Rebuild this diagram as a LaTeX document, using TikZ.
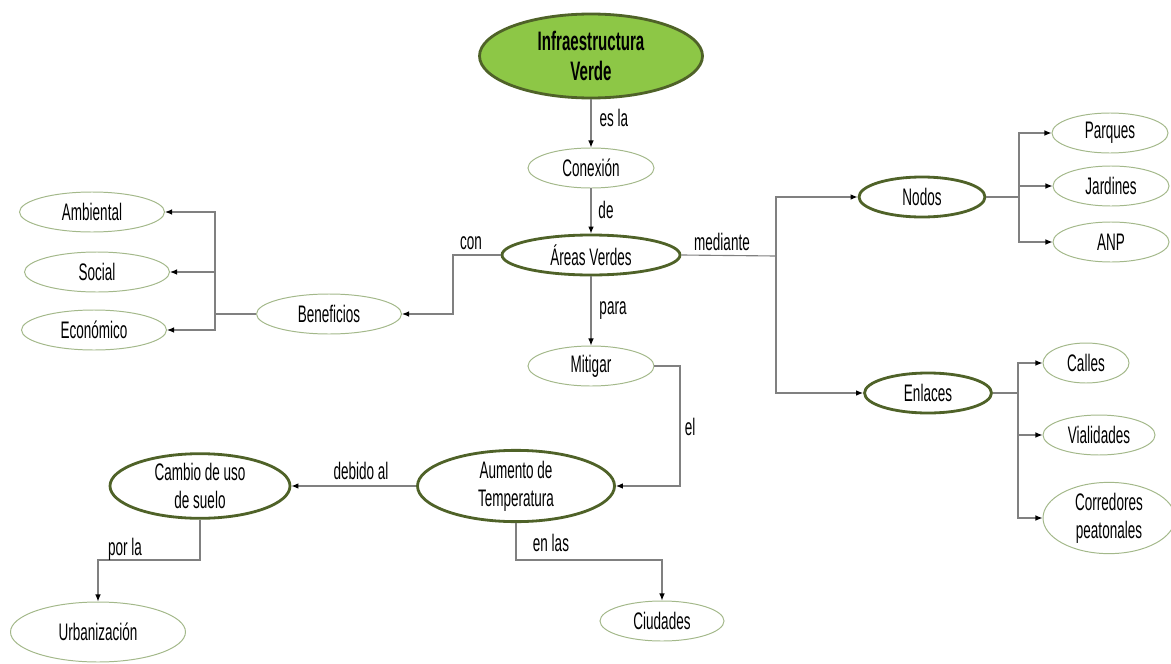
\documentclass[tikz,border=0pt]{standalone}
\usepackage{fontspec}
\setmainfont{Liberation Sans}[FakeStretch=0.565]
\usetikzlibrary{shapes.geometric,arrows.meta}
\definecolor{verdeclaro}{HTML}{8DC746}
\definecolor{verdeosc}{HTML}{4F6228}
\definecolor{verdeborde}{HTML}{A3B88A}
\definecolor{gris}{HTML}{808080}

\begin{document}
\begin{tikzpicture}[x=0.025cm,y=-0.025cm,
		font=\fontsize{17}{20}\selectfont,
		hoja/.style={ellipse,draw=verdeborde,line width=0.7pt,inner sep=0pt,align=center},
		clave/.style={hoja,draw=verdeosc,line width=2pt},
		tam/.style 2 args={minimum width=#1*0.025cm,minimum height=#2*0.025cm},
		linea/.style={draw=gris,line width=0.8pt},
		conector/.style={linea,-{Latex[length=5pt,width=4pt,color=black]}},
		etiq/.style={inner sep=1pt}]
			\useasboundingbox (0,0) rectangle (1171,664);
			% nodos centrales
			\node[clave,fill=verdeclaro,tam={223}{84},font=\bfseries\fontsize{19}{21}\selectfont] (infra) at (591,56) {Infraestructura\\Verde};
			\node[hoja,tam={126}{40}] (conexion) at (591,168) {Conexión};
			\node[clave,tam={178}{40}] (areas) at (591,255) {Áreas Verdes};
			\node[hoja,tam={126}{40}] (mitigar) at (591,366) {Mitigar};
			\node[clave,tam={197}{60}] (aumento) at (516,486) {Aumento de\\Temperatura};
			\node[clave,tam={180}{60}] (cambio) at (200,486) {Cambio de uso\\de suelo};
			\node[hoja,tam={175}{60}] (urb) at (98,632) {Urbanización};
			\node[hoja,tam={124}{40}] (ciudades) at (662,621) {Ciudades};
			% beneficios
			\node[hoja,tam={145}{40}] (benef) at (329,314) {Beneficios};
			\node[hoja,tam={145}{40}] (amb) at (92,212) {Ambiental};
			\node[hoja,tam={145}{40}] (soc) at (97,272) {Social};
			\node[hoja,tam={145}{40}] (eco) at (94,330) {Económico};
			% nodos y enlaces
			\node[clave,tam={126}{40}] (nodos) at (922,197) {Nodos};
			\node[clave,tam={127}{40}] (enlaces) at (928,393) {Enlaces};
			\node[hoja,tam={116}{40}] (par) at (1110,133) {Parques};
			\node[hoja,tam={116}{40}] (jar) at (1111,186) {Jardines};
			\node[hoja,tam={116}{40}] (anp) at (1111,242) {ANP};
			\node[hoja,tam={86}{40}] (cal) at (1086,363) {Calles};
			\node[hoja,tam={112}{40}] (via) at (1099,435) {Vialidades};
			\node[hoja,tam={132}{68}] (cor) at (1109,518) {Corredores\\peatonales};
			% puntos de quiebre
			\coordinate (jcon) at (453,255);
			\coordinate (jben) at (215,314);
			\coordinate (jel) at (680,366);
			\coordinate (jpor) at (200,560);
			\coordinate (jlas) at (516,560);
			\coordinate (jmed) at (776,256);
			\coordinate (jnod) at (1019,197);
			\coordinate (jenl) at (1018,393);
			% conectores
			\draw[conector] (infra) -- (conexion);
			\draw[conector] (conexion) -- (areas);
			\draw[conector] (areas) -- (mitigar);
			\draw[conector] (areas.west) -- (jcon) |- (benef.east);
			\draw[linea] (benef.west) -- (jben);
			\foreach \h in {amb, soc, eco}
				\draw[conector] (jben) |- (\h.east);
			\draw[conector] (mitigar.east) -- (jel) |- (aumento.east);
			\draw[conector] (aumento) -- (cambio);
			\draw[conector] (cambio.south) -- (jpor) -| (urb.north);
			\draw[conector] (aumento.south) -- (jlas) -| (ciudades.north);
			\draw[linea] (areas.east) -- (jmed);
			\draw[conector] (jmed) |- (nodos.west);
			\draw[conector] (jmed) |- (enlaces.west);
			\draw[linea] (nodos.east) -- (jnod);
			\foreach \h in {par, jar, anp}
				\draw[conector] (jnod) |- (\h.west);
			\draw[linea] (enlaces.east) -- (jenl);
			\foreach \h in {cal, via, cor}
				\draw[conector] (jenl) |- (\h.west);
			% etiquetas
			\node[etiq,anchor=west] (lesla) at (598,118) {es la};
			\node[etiq] (lde) at (606,210) {de};
			\node[etiq] (lcon) at (471,243) {con};
			\node[etiq] (lmed) at (722,242) {mediante};
			\node[etiq] (lpara) at (613,311) {para};
			\node[etiq] (lel) at (690,427) {el};
			\node[etiq] (ldeb) at (361,471) {debido al};
			\node[etiq] (lpor) at (125,549) {por la};
			\node[etiq] (llas) at (551,543) {en las};
		\end{tikzpicture}
\end{document}
